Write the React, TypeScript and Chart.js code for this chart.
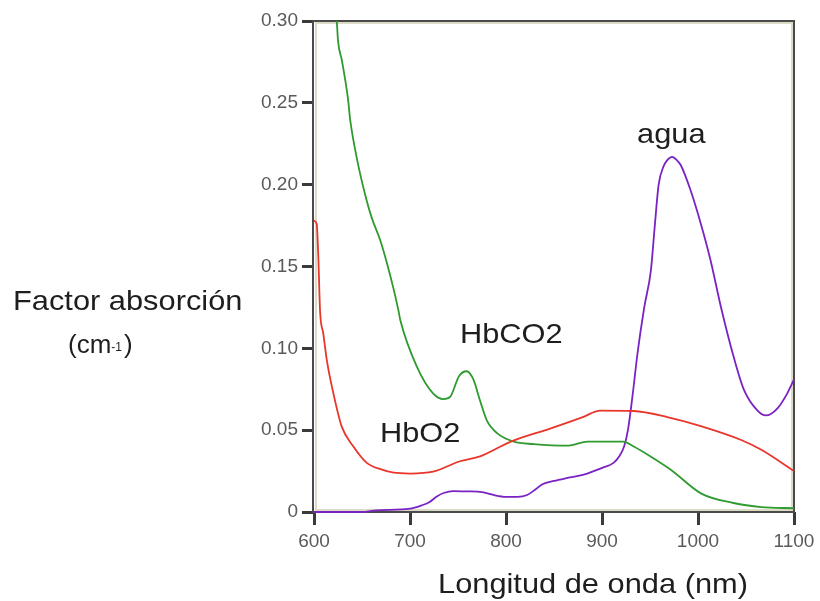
import React, { useEffect, useRef } from "react";
import Chart from "chart.js/auto";

// Absorption spectra, wavelength (nm) vs absorption factor (cm-1)
const wavelengthTicks = [600, 700, 800, 900, 1000, 1100];
const absorptionTicks = [0, 0.05, 0.1, 0.15, 0.2, 0.25, 0.3];

const hbco2Wavelength = [620, 623.7, 625, 629, 635.5, 637.6, 645, 655, 660, 669, 676, 683, 688, 690, 707, 724, 735, 742, 751, 759, 766, 773, 780, 791, 808, 829, 864, 885, 922, 933, 951, 972, 1003, 1037, 1066, 1100];
const hbco2Values = [0.318, 0.3, 0.288, 0.276, 0.252, 0.24, 0.215, 0.19, 0.18, 0.166, 0.152, 0.136, 0.123, 0.117, 0.089, 0.0725, 0.069, 0.0705, 0.083, 0.086, 0.081, 0.068, 0.056, 0.048, 0.043, 0.0415, 0.0405, 0.043, 0.043, 0.04, 0.0338, 0.0257, 0.0114, 0.0055, 0.003, 0.0023];

const hbo2Wavelength = [600, 602.8, 604.5, 606.3, 609.7, 613.3, 620, 629, 641, 655, 670, 683, 700, 724, 752, 773, 805, 846, 880, 898, 933, 968, 1003, 1045, 1066, 1100];
const hbo2Values = [0.178, 0.176, 0.156, 0.123, 0.109, 0.093, 0.073, 0.052, 0.04, 0.03, 0.026, 0.024, 0.0235, 0.0246, 0.031, 0.034, 0.043, 0.051, 0.058, 0.062, 0.0617, 0.058, 0.0525, 0.044, 0.038, 0.025];

const aguaWavelength = [600, 650, 665, 700, 712, 720, 728, 735, 745, 760, 775, 787, 800, 812, 822, 830, 838, 850, 864, 881, 900, 912, 918, 923, 927, 932, 937, 944, 951, 955, 959, 964, 968, 973, 978, 982, 992, 1003, 1013, 1024, 1038, 1048, 1062, 1071, 1083, 1093, 1100];
const aguaValues = [0, 0, 0.001, 0.002, 0.004, 0.006, 0.0095, 0.0116, 0.0128, 0.0126, 0.0122, 0.0104, 0.0093, 0.0093, 0.0104, 0.0135, 0.017, 0.019, 0.0208, 0.0228, 0.027, 0.03, 0.034, 0.04, 0.05, 0.072, 0.097, 0.125, 0.148, 0.175, 0.2, 0.211, 0.215, 0.217, 0.215, 0.212, 0.197, 0.176, 0.154, 0.125, 0.093, 0.0745, 0.062, 0.059, 0.0635, 0.0725, 0.081];

const toPoints = (xs: number[], ys: number[]) => xs.map((x, i) => ({ x, y: ys[i] }));

const FONT = '"Liberation Sans", Arial, Helvetica, sans-serif';

function drawLabel(ctx: CanvasRenderingContext2D, text: string, x: number, baseline: number, size: number, sx: number) {
  ctx.save();
  ctx.translate(x, baseline);
  ctx.scale(sx, 1);
  ctx.font = `${size}px ${FONT}`;
  ctx.fillStyle = "#1e1e1e";
  ctx.textAlign = "left";
  ctx.textBaseline = "alphabetic";
  ctx.fillText(text, 0, 0);
  const w = ctx.measureText(text).width * sx;
  ctx.restore();
  return w;
}

// Plot frame: dark outer edge with a pale inner rim
const framePlugin = {
  id: "frame",
  beforeDatasetsDraw(chart: any) {
    const { ctx, chartArea } = chart;
    const { left, right, top, bottom } = chartArea;
    ctx.save();
    ctx.lineWidth = 2;
    ctx.strokeStyle = "#dcdcc6";
    ctx.strokeRect(left + 2, top + 2, right - left - 4, bottom - top - 4);
    ctx.strokeStyle = "#4a4a4a";
    ctx.beginPath();
    ctx.moveTo(left - 1, top);
    ctx.lineTo(right, top);
    ctx.lineTo(right, bottom);
    ctx.lineTo(left - 1, bottom);
    ctx.closePath();
    ctx.stroke();
    ctx.restore();
  },
};

// Curve names and axis titles
const labelsPlugin = {
  id: "labels",
  afterDraw(chart: any) {
    const ctx: CanvasRenderingContext2D = chart.ctx;
    drawLabel(ctx, "Factor absorción", 13, 310, 28, 1.1);
    let x = 68;
    x += drawLabel(ctx, "(cm", x, 353, 26, 1.0);
    x += drawLabel(ctx, "-1", x, 351, 12, 1.0) + 2;
    drawLabel(ctx, ")", x, 353, 26, 1.0);
    drawLabel(ctx, "HbCO2", 460, 343, 28, 1.1);
    drawLabel(ctx, "HbO2", 380, 442, 28, 1.1);
    drawLabel(ctx, "agua", 637, 143, 28, 1.1);
    drawLabel(ctx, "Longitud de onda (nm)", 438, 593, 28, 1.1);
  },
};

export default function App() {
  const canvasRef = useRef<HTMLCanvasElement | null>(null);

  useEffect(() => {
    if (!canvasRef.current) return;
    const lineStyle = {
      borderWidth: 1.8,
      pointRadius: 0,
      fill: false,
      cubicInterpolationMode: "monotone" as const,
      clip: { left: 1, top: 0, right: 1, bottom: 3 },
    };
    const chart = new Chart(canvasRef.current, {
      type: "line",
      data: {
        datasets: [
          { label: "HbO2", data: toPoints(hbo2Wavelength, hbo2Values), borderColor: "#e8362b", ...lineStyle },
          { label: "HbCO2", data: toPoints(hbco2Wavelength, hbco2Values), borderColor: "#2f9a2f", ...lineStyle },
          { label: "agua", data: toPoints(aguaWavelength, aguaValues), borderColor: "#7a22c4", ...lineStyle },
        ],
      },
      options: {
        animation: false,
        responsive: false,
        devicePixelRatio: 1,
        layout: { padding: { top: 21, right: 26, bottom: 0, left: 0 } },
        plugins: { legend: { display: false }, tooltip: { enabled: false } },
        scales: {
          x: {
            type: "linear",
            min: wavelengthTicks[0],
            max: wavelengthTicks[wavelengthTicks.length - 1],
            afterBuildTicks(scale: any) {
              scale.ticks = wavelengthTicks.map((v) => ({ value: v }));
            },
            afterFit(scale: any) {
              scale.height = 89;
            },
            ticks: {
              color: "#5a5a5a",
              font: { family: FONT, size: 19 },
              padding: 5,
              maxRotation: 0,
              autoSkip: false,
              callback: (v: any) => String(v),
            },
            grid: { drawOnChartArea: false, drawTicks: true, tickLength: 13, tickWidth: 3, tickColor: "#3a3a3a" },
            border: { display: false },
          },
          y: {
            type: "linear",
            min: absorptionTicks[0],
            max: absorptionTicks[absorptionTicks.length - 1],
            afterBuildTicks(scale: any) {
              scale.ticks = absorptionTicks.map((v) => ({ value: v }));
            },
            afterFit(scale: any) {
              scale.width = 314;
            },
            ticks: {
              color: "#5a5a5a",
              font: { family: FONT, size: 19 },
              padding: 4,
              autoSkip: false,
              callback: (v: any) => (Number(v) === 0 ? "0" : Number(v).toFixed(2)),
            },
            grid: { drawOnChartArea: false, drawTicks: true, tickLength: 12, tickWidth: 3, tickColor: "#3a3a3a" },
            border: { display: false },
          },
        },
      },
      plugins: [framePlugin, labelsPlugin],
    });
    return () => chart.destroy();
  }, []);

  return (
    <div style={{ position: "fixed", left: 0, top: 0, width: 820, height: 601, background: "#fff" }}>
      <canvas ref={canvasRef} width={820} height={601} style={{ display: "block" }} />
    </div>
  );
}
